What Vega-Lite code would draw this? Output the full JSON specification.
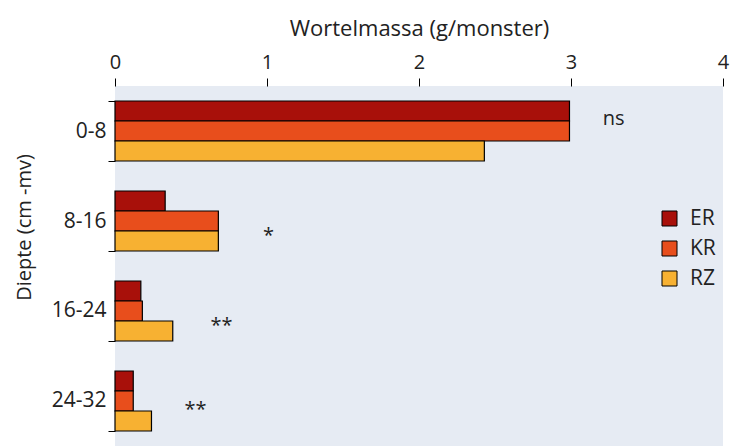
{
  "$schema": "https://vega.github.io/schema/vega-lite/v6.json",
  "width": 608,
  "height": 360,
  "autosize": {"type": "none"},
  "padding": {"left": 115, "top": 86, "right": 10, "bottom": 0},
  "background": "white",
  "config": {
    "view": {"fill": "#e6ebf3", "stroke": null},
    "font": "Open Sans"
  },
  "datasets": {
    "bars": [
      {"diepte": "0-8", "behandeling": "ER", "massa": 2.99},
      {"diepte": "0-8", "behandeling": "KR", "massa": 2.99},
      {"diepte": "0-8", "behandeling": "RZ", "massa": 2.43},
      {"diepte": "8-16", "behandeling": "ER", "massa": 0.33},
      {"diepte": "8-16", "behandeling": "KR", "massa": 0.68},
      {"diepte": "8-16", "behandeling": "RZ", "massa": 0.68},
      {"diepte": "16-24", "behandeling": "ER", "massa": 0.17},
      {"diepte": "16-24", "behandeling": "KR", "massa": 0.18},
      {"diepte": "16-24", "behandeling": "RZ", "massa": 0.38},
      {"diepte": "24-32", "behandeling": "ER", "massa": 0.12},
      {"diepte": "24-32", "behandeling": "KR", "massa": 0.12},
      {"diepte": "24-32", "behandeling": "RZ", "massa": 0.24}
    ],
    "annotaties": [
      {"diepte": "0-8", "label": "ns", "positie": 3.28},
      {"diepte": "8-16", "label": "*", "positie": 1.01},
      {"diepte": "16-24", "label": "**", "positie": 0.70},
      {"diepte": "24-32", "label": "**", "positie": 0.53}
    ]
  },
  "layer": [
    {
      "data": {"name": "bars"},
      "mark": {"type": "bar", "stroke": "black", "strokeWidth": 1.2},
      "encoding": {
        "x": {
          "field": "massa", "type": "quantitative",
          "scale": {"domain": [0, 4], "nice": false},
          "axis": {
            "title": "Wortelmassa (g∕monster)", "format": "d",
            "orient": "top", "values": [0, 1, 2, 3, 4], "domain": false, "grid": false,
            "tickSize": 8, "tickColor": "black", "labelFlush": false,
            "labelFontSize": 20, "labelPadding": 6, "labelColor": "#222",
            "titleFontSize": 22, "titleFontWeight": "normal", "titlePadding": 12, "titleColor": "#222"
          }
        },
        "y": {
          "field": "diepte", "type": "nominal",
          "sort": ["0-8", "8-16", "16-24", "24-32"],
          "scale": {"paddingInner": 0.3333, "paddingOuter": 0.1667},
          "axis": {
            "title": "Diepte (cm -mv)",
            "domain": false, "grid": false, "tickBand": "extent",
            "tickSize": 7, "tickColor": "black",
            "labelFontSize": 21, "labelPadding": 2, "labelColor": "#222",
            "titleFontSize": 20, "titleFontWeight": "normal", "titleColor": "#222",
            "titleX": -91, "titleY": 141, "titleBaseline": "middle", "titleAlign": "center"
          }
        },
        "yOffset": {"field": "behandeling", "type": "nominal", "sort": ["ER", "KR", "RZ"]},
        "color": {
          "field": "behandeling", "type": "nominal",
          "scale": {"domain": ["ER", "KR", "RZ"], "range": ["#a8100a", "#e84e1c", "#f7b132"]},
          "legend": {
            "title": null, "orient": "none", "legendX": 544, "legendY": 122,
            "symbolType": "square", "symbolSize": 225, "symbolStrokeColor": "black", "symbolStrokeWidth": 1,
            "labelFontSize": 21, "labelOffset": 10, "rowPadding": 8, "padding": 0, "labelColor": "#222"
          }
        }
      }
    },
    {
      "data": {"name": "annotaties"},
      "transform": [{"filter": "datum.diepte == '0-8'"}],
      "mark": {"type": "text", "fontSize": 20, "dy": -12, "align": "center", "baseline": "middle", "color": "#222"},
      "encoding": {
        "x": {"field": "positie", "type": "quantitative"},
        "y": {"field": "diepte", "type": "nominal", "sort": ["0-8", "8-16", "16-24", "24-32"]},
        "text": {"field": "label"}
      }
    },
    {
      "data": {"name": "annotaties"},
      "transform": [{"filter": "datum.diepte == '8-16' || datum.diepte == '16-24'"}],
      "mark": {"type": "text", "fontSize": 20, "dy": 15, "align": "center", "baseline": "middle", "color": "#222"},
      "encoding": {
        "x": {"field": "positie", "type": "quantitative"},
        "y": {"field": "diepte", "type": "nominal", "sort": ["0-8", "8-16", "16-24", "24-32"]},
        "text": {"field": "label"}
      }
    },
    {
      "data": {"name": "annotaties"},
      "transform": [{"filter": "datum.diepte == '24-32'"}],
      "mark": {"type": "text", "fontSize": 20, "dy": 9, "align": "center", "baseline": "middle", "color": "#222"},
      "encoding": {
        "x": {"field": "positie", "type": "quantitative"},
        "y": {"field": "diepte", "type": "nominal", "sort": ["0-8", "8-16", "16-24", "24-32"]},
        "text": {"field": "label"}
      }
    }
  ]
}
